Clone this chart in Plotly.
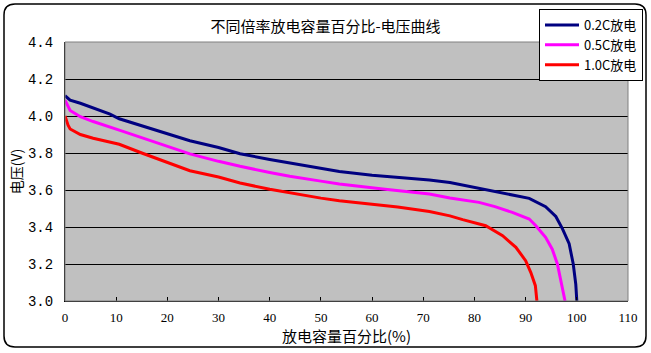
import plotly.graph_objects as go

# ---- data ----
x_02 = [0, 1, 3, 5.5, 8.8, 10.6, 15, 20, 24.4, 30, 34.2, 40, 43.9, 50, 53.6, 60, 65, 71.2, 75.2, 80.9, 85, 88, 90.7, 93.9, 95.9, 97.2, 98.5, 99.3, 99.8, 100]
v_02 = [4.11, 4.086, 4.069, 4.045, 4.01, 3.985, 3.947, 3.905, 3.866, 3.83, 3.796, 3.765, 3.746, 3.718, 3.70, 3.68, 3.668, 3.654, 3.64, 3.609, 3.59, 3.572, 3.555, 3.51, 3.457, 3.39, 3.31, 3.20, 3.09, 3.0]

x_05 = [0, 1, 3, 5.5, 10.6, 15, 20, 24.4, 30, 34.2, 40, 43.9, 50, 53.6, 62.1, 71.2, 75.2, 80.9, 84, 87.4, 90.7, 92, 93.9, 95.2, 96.2, 97.1, 97.7]
v_05 = [4.086, 4.03, 3.996, 3.97, 3.924, 3.883, 3.838, 3.795, 3.755, 3.728, 3.695, 3.674, 3.648, 3.632, 3.605, 3.578, 3.557, 3.533, 3.51, 3.479, 3.443, 3.407, 3.344, 3.28, 3.20, 3.09, 3.0]

x_10 = [0, 0.6, 1, 3, 5.5, 8.8, 10.6, 15, 20, 24.4, 30, 34.2, 40, 43.9, 50, 53.6, 60, 65, 71.2, 75.2, 77.7, 82.2, 85.5, 88.1, 90, 91, 91.9, 92.2]
v_10 = [4.0, 3.95, 3.93, 3.90, 3.88, 3.86, 3.847, 3.80, 3.75, 3.704, 3.67, 3.638, 3.604, 3.584, 3.556, 3.542, 3.525, 3.508, 3.484, 3.46, 3.44, 3.407, 3.353, 3.29, 3.218, 3.155, 3.083, 3.0]

series_names = ["0.2C放电", "0.5C放电", "1.0C放电"]
series_colors = ["#000080", "#FF00FF", "#FF0000"]

title_text = "不同倍率放电容量百分比-电压曲线"
x_title = "放电容量百分比(%)"
y_title = "电压(V)"

CJK = "Noto Sans CJK SC"

fig = go.Figure()
for i, (xs, vs) in enumerate([(x_02, v_02), (x_05, v_05), (x_10, v_10)]):
    fig.add_trace(go.Scatter(
        x=xs, y=vs, mode="lines", name=series_names[i],
        legendgroup=f"g{i}",
        line=dict(color=series_colors[i], width=3),
    ))

W, H = 651, 353
L, R, T, B = 65, 23, 42, 52
pw, ph = W - L - R, H - T - B

def px2paper(px, py):
    return (px - L) / pw, (H - B - py) / ph

# outer rounded border
x0, y0 = px2paper(4, 4)
x1, y1 = px2paper(646, 347)
rx, ry = 11 / pw, 11 / ph
path = (f"M{x0+rx},{y0} L{x1-rx},{y0} Q{x1},{y0} {x1},{y0-ry} "
        f"L{x1},{y1+ry} Q{x1},{y1} {x1-rx},{y1} "
        f"L{x0+rx},{y1} Q{x0},{y1} {x0},{y1+ry} "
        f"L{x0},{y0-ry} Q{x0},{y0} {x0+rx},{y0} Z")

shapes = [
    dict(type="path", path=path, xref="paper", yref="paper",
         line=dict(color="black", width=1.5), layer="below"),
    dict(type="rect", x0=0, y0=0, x1=1, y1=1, xref="paper", yref="paper",
         line=dict(color="#808080", width=1), layer="above"),
]

lx, ly = px2paper(539, 9)

fig.update_layout(
    width=W, height=H,
    margin=dict(l=L, r=R, t=T, b=B, autoexpand=False),
    paper_bgcolor="white",
    plot_bgcolor="#C0C0C0",
    title=dict(text=title_text, x=0.5, xref="container", y=1 - 27 / H,
               yref="container", xanchor="center", yanchor="middle",
               font=dict(family=CJK, size=15, color="black")),
    showlegend=True,
    legend=dict(x=lx, y=ly, xanchor="left", yanchor="top",
                bgcolor="white", bordercolor="black", borderwidth=1,
                font=dict(family=CJK, size=13, color="black"),
                tracegroupgap=0, itemwidth=34),
    shapes=shapes,
    xaxis=dict(range=[0, 110], dtick=10, tick0=0, showgrid=False, zeroline=False,
               showline=True, linecolor="black", linewidth=1,
               ticks="inside", ticklen=4, tickcolor="black",
               tickfont=dict(family="Liberation Serif", size=13, color="black"),
               ticklabelstandoff=4,
               title=dict(text=x_title, font=dict(family=CJK, size=15, color="black"),
                          standoff=1)),
    yaxis=dict(range=[3.0, 4.4], dtick=0.2, tick0=3.0, tickformat=".1f",
               showgrid=True, gridcolor="black", gridwidth=1, zeroline=False,
               showline=True, linecolor="black", linewidth=1, ticks="",
               tickfont=dict(family="Liberation Mono", size=14, color="black"),
               ticklabelstandoff=8,
               title=dict(text=y_title, font=dict(family=CJK, size=14, color="black"),
                          standoff=2)),
)

fig.write_html("out.html")
